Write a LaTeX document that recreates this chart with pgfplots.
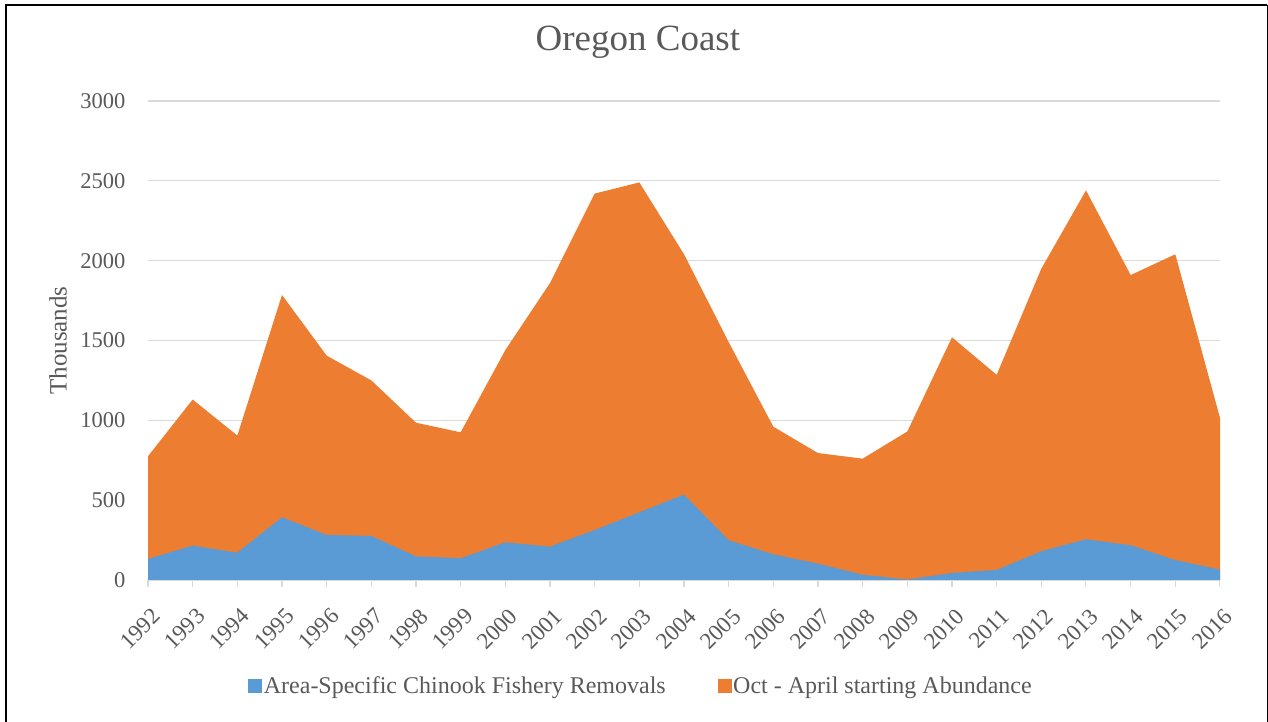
\documentclass[border=0pt]{standalone}
\usepackage{pgfplots}
\pgfplotsset{compat=1.18}
\usepackage{fontspec}
\setmainfont{Liberation Serif}

\definecolor{cblue}{HTML}{5B9BD5}
\definecolor{corange}{HTML}{ED7D31}
\definecolor{ctext}{HTML}{595959}
\definecolor{cgrid}{HTML}{D9D9D9}

\begin{document}
\begin{tikzpicture}
    % page frame (pixel coordinates, y up)
    \useasboundingbox (0pt,0pt) rectangle (1268pt,722pt);
    \draw[black, line width=2.4pt] (6pt,0pt) -- (6pt,717pt) -- (1267pt,717pt);
    \draw[black, line width=1pt] (1267pt,717pt) -- (1267pt,0pt);

    \begin{axis}[
        at={(148pt,142pt)}, anchor=origin,
        scale only axis,
        width=1072pt, height=479pt,
        xmin=1992, xmax=2016,
        ymin=0, ymax=3000,
        xtick={1992,...,2016},
        ytick={0,500,...,3000},
        xticklabel style={rotate=45, anchor=north east, font=\fontsize{23}{23}\selectfont, text=ctext, inner sep=1pt, xshift=-11pt, yshift=-15pt},
        yticklabel style={font=\fontsize{22.5}{22.5}\selectfont, text=ctext, xshift=-12pt},
        /pgf/number format/assume math mode=true,
        /pgf/number format/1000 sep={},
        ymajorgrids,
        grid style={cgrid, line width=1.2pt},
        axis line style={draw=none},
        axis x line*=bottom,
        x axis line style={draw=cgrid, line width=1.2pt},
        xtick pos=bottom,
        ytick style={draw=none},
        xtick style={draw=cgrid, line width=1.2pt},
        major tick length=7pt,
        tick align=outside,
        title={Oregon Coast},
        title style={at={(0.457,1.11)}, anchor=center, font=\fontsize{37}{37}\selectfont, text=ctext},
        ylabel={Thousands},
        ylabel style={at={(axis description cs:-0.084,0.5)}, anchor=center, font=\fontsize{25}{25}\selectfont, text=ctext},
        legend style={at={(0.46,-0.221)}, anchor=center, draw=none, fill=none,
            font=\fontsize{24}{24}\selectfont, text=ctext, legend columns=2,
            /tikz/every even column/.append style={column sep=50pt}},
        legend image code/.code={\fill (0pt,-6.5pt) rectangle (13pt,6.5pt);},
    ]
    \addlegendimage{cblue, fill=cblue}
    \addlegendimage{corange, fill=corange}

    % Oct - April starting Abundance
    \addplot[fill=corange, draw=none, forget plot] coordinates {
        (1992,775) (1993,1130) (1994,905) (1995,1785) (1996,1405)
        (1997,1250) (1998,985) (1999,925) (2000,1440) (2001,1860)
        (2002,2420) (2003,2490) (2004,2040) (2005,1490) (2006,960)
        (2007,795) (2008,760) (2009,930) (2010,1520) (2011,1285)
        (2012,1950) (2013,2440) (2014,1910) (2015,2040) (2016,1015)
    } \closedcycle;
    % Area-Specific Chinook Fishery Removals
    \addplot[fill=cblue, draw=none, forget plot] coordinates {
        (1992,132) (1993,215) (1994,171) (1995,393) (1996,282)
        (1997,276) (1998,148) (1999,136) (2000,236) (2001,209)
        (2002,313) (2003,424) (2004,535) (2005,249) (2006,161)
        (2007,102) (2008,33) (2009,3) (2010,44) (2011,63)
        (2012,180) (2013,255) (2014,218) (2015,125) (2016,65)
    } \closedcycle;

    \legend{Area-Specific Chinook Fishery Removals, Oct - April starting Abundance}
    \end{axis}
\end{tikzpicture}
\end{document}
